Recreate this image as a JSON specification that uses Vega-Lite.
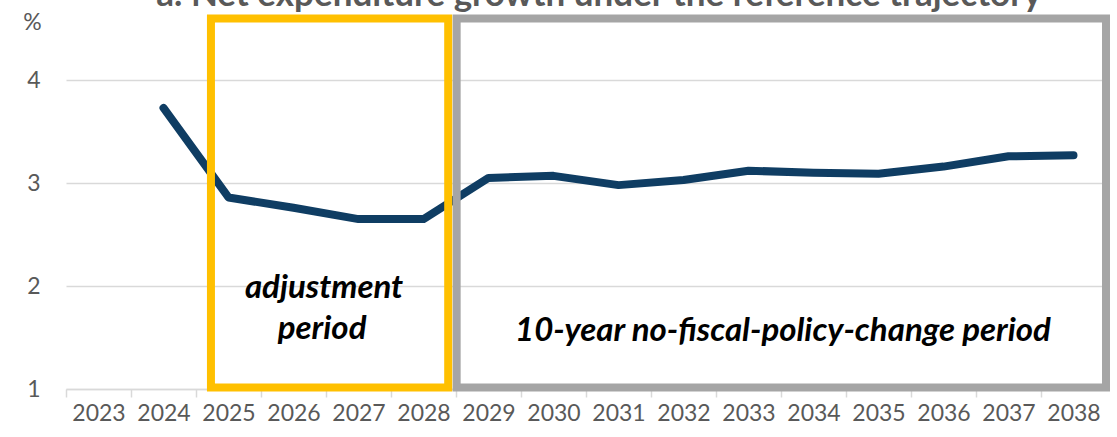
{
  "$schema": "https://vega.github.io/schema/vega-lite/v6.json",
  "width": 1040,
  "height": 381,
  "autosize": {"type": "none"},
  "padding": {"left": 66, "top": 8, "right": 11, "bottom": 48},
  "background": "white",
  "config": {
    "view": {"stroke": null},
    "font": "Lato",
    "axis": {"labelFont": "Lato", "titleFont": "Lato"}
  },
  "datasets": {
    "growth": [
      {"year": 2024, "value": 3.73},
      {"year": 2025, "value": 2.86},
      {"year": 2026, "value": 2.76},
      {"year": 2027, "value": 2.65},
      {"year": 2028, "value": 2.65},
      {"year": 2029, "value": 3.05},
      {"year": 2030, "value": 3.07},
      {"year": 2031, "value": 2.98},
      {"year": 2032, "value": 3.03},
      {"year": 2033, "value": 3.12},
      {"year": 2034, "value": 3.10},
      {"year": 2035, "value": 3.09},
      {"year": 2036, "value": 3.16},
      {"year": 2037, "value": 3.26},
      {"year": 2038, "value": 3.27}
    ],
    "boxes": [
      {"kind": "adjustment", "x1": 2028.51, "x2": 2038.5, "y1": 1.015, "y2": 4.597},
      {"kind": "no-change", "x1": 2024.73, "x2": 2028.38, "y1": 1.015, "y2": 4.597}
    ],
    "notes": [
      {"label": "adjustment", "x": 2026.47, "y": 1.976},
      {"label": "period", "x": 2026.44, "y": 1.58},
      {"label": "10-year no-fiscal-policy-change period", "x": 2033.53, "y": 1.567}
    ],
    "heading": [
      {"label": "a. Net expenditure growth under the reference trajectory", "x": 2030.7, "y": 4.719}
    ]
  },
  "layer": [
    {
      "data": {"name": "growth"},
      "mark": {"type": "line", "color": "#0F3D63", "strokeWidth": 8, "strokeCap": "round", "strokeJoin": "round"},
      "encoding": {
        "x": {
          "field": "year",
          "type": "quantitative",
          "scale": {"domain": [2022.5, 2038.5], "nice": false, "zero": false},
          "axis": {
            "title": null,
            "values": [2023, 2024, 2025, 2026, 2027, 2028, 2029, 2030, 2031, 2032, 2033, 2034, 2035, 2036, 2037, 2038, 2039],
            "format": "d",
            "labelExpr": "datum.value > 2038 ? '' : datum.label",
            "grid": false,
            "tickOffset": -32.5,
            "labelOffset": 32.5,
            "tickSize": 8,
            "tickColor": "#D9D9D9",
            "tickWidth": 1.5,
            "domainColor": "#D9D9D9",
            "domainWidth": 1.5,
            "labelFontSize": 23,
            "labelColor": "#595959",
            "labelPadding": 5,
            "labelOverlap": false,
            "labelFlush": false,
            "labelBound": false
          }
        },
        "y": {
          "field": "value",
          "type": "quantitative",
          "scale": {"domain": [1, 4.7], "nice": false, "zero": false},
          "axis": {
            "title": "%",
            "titleAngle": 0,
            "titleX": -34,
            "titleY": 14,
            "titleAlign": "center",
            "titleBaseline": "middle",
            "titleFontSize": 23,
            "titleFontWeight": "normal",
            "titleColor": "#595959",
            "values": [1, 2, 3, 4],
            "format": "d",
            "grid": true,
            "gridColor": "#D9D9D9",
            "gridWidth": 1.5,
            "domain": false,
            "ticks": false,
            "tickSize": 0,
            "labelFontSize": 23,
            "labelColor": "#595959",
            "labelPadding": 26,
            "labelFlush": false
          }
        }
      }
    },
    {
      "data": {"name": "boxes"},
      "mark": {"type": "rect", "filled": false, "strokeWidth": 8},
      "encoding": {
        "x": {"field": "x1", "type": "quantitative"},
        "x2": {"field": "x2"},
        "y": {"field": "y1", "type": "quantitative"},
        "y2": {"field": "y2"},
        "stroke": {
          "field": "kind",
          "type": "nominal",
          "scale": {"domain": ["adjustment", "no-change"], "range": ["#A5A5A5", "#FFC000"]},
          "legend": null
        }
      }
    },
    {
      "data": {"name": "notes"},
      "mark": {"type": "text", "font": "Lato", "fontSize": 33, "fontWeight": "bold", "fontStyle": "italic", "color": "#000000", "align": "center", "baseline": "middle"},
      "encoding": {
        "x": {"field": "x", "type": "quantitative"},
        "y": {"field": "y", "type": "quantitative"},
        "text": {"field": "label"}
      }
    },
    {
      "data": {"name": "heading"},
      "mark": {"type": "text", "font": "Lato", "fontSize": 35, "fontWeight": "bold", "color": "#595959", "align": "center", "baseline": "alphabetic"},
      "encoding": {
        "x": {"field": "x", "type": "quantitative"},
        "y": {"field": "y", "type": "quantitative"},
        "text": {"field": "label"}
      }
    }
  ]
}
